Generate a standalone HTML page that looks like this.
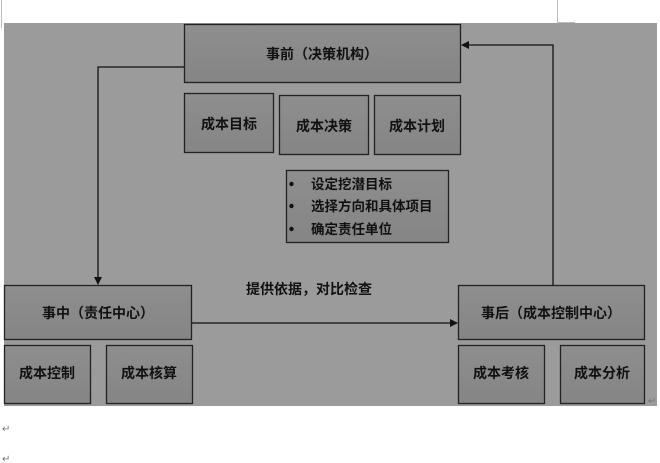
<!DOCTYPE html>
<html><head><meta charset="utf-8"><style>
html,body{margin:0;padding:0;background:#fff;width:660px;height:463px;overflow:hidden}
svg{position:absolute;left:0;top:0}
text{font-family:"Liberation Sans","Noto Sans CJK SC","WenQuanYi Zen Hei",sans-serif;font-weight:bold;fill:#111}
</style></head><body>
<svg width="660" height="463" viewBox="0 0 660 463">
<defs>
<linearGradient id="g" x1="0" y1="0" x2="0" y2="1"><stop offset="0" stop-color="#8e8e8e"/><stop offset="1" stop-color="#858585"/></linearGradient>
<marker id="a" markerWidth="8" markerHeight="8" refX="7" refY="4" orient="auto" markerUnits="userSpaceOnUse"><path d="M0,0 L8,4 L0,8 z" fill="#111"/></marker>
</defs>
<line x1="1.5" y1="0" x2="1.5" y2="28" stroke="#bbb"/>
<line x1="557.5" y1="0" x2="557.5" y2="23" stroke="#bbb"/>
<line x1="557" y1="22.5" x2="575" y2="22.5" stroke="#bbb"/>
<rect x="4" y="23" width="653" height="383" fill="#9b9b9b"/>
<g stroke="#222" stroke-width="1.3" fill="url(#g)">
<rect x="184.5" y="24.5" width="276" height="58"/>
<rect x="184.5" y="93.5" width="89" height="59"/>
<rect x="279.5" y="95.5" width="89" height="59"/>
<rect x="374.5" y="95.5" width="86" height="59"/>
<rect x="286.5" y="170.5" width="162" height="72"/>
<rect x="4.5" y="285.5" width="187" height="54"/>
<rect x="458.5" y="285.5" width="186" height="54"/>
<rect x="4.5" y="345.5" width="86" height="58"/>
<rect x="106.5" y="345.5" width="86" height="58"/>
<rect x="458.5" y="345.5" width="86" height="58"/>
<rect x="560.5" y="345.5" width="84" height="58"/>
</g>
<g stroke="#111" stroke-width="1.3" fill="none">
<polyline points="184,67 98,67 98,284" marker-end="url(#a)"/>
<polyline points="553,285 553,45 462,45" marker-end="url(#a)"/>
<line x1="192" y1="323" x2="457" y2="323" marker-end="url(#a)"/>
</g>
<g font-size="14" text-anchor="middle">
<text x="322" y="59">事前（决策机构）</text>
<text x="229" y="129">成本目标</text>
<text x="324" y="131">成本决策</text>
<text x="417" y="131">成本计划</text>
<text x="98" y="318">事中（责任中心）</text>
<text x="551" y="318">事后（成本控制中心）</text>
<text x="47" y="378">成本控制</text>
<text x="149" y="378">成本核算</text>
<text x="501" y="378">成本考核</text>
<text x="602" y="378">成本分析</text>
<text x="309" y="294">提供依据，对比检查</text>
</g>
<g font-size="13.5">
<circle cx="291.5" cy="184" r="2.2" fill="#111"/>
<circle cx="291.5" cy="206" r="2.2" fill="#111"/>
<circle cx="291.5" cy="229" r="2.2" fill="#111"/>
<text x="311" y="189">设定挖潜目标</text>
<text x="311" y="211">选择方向和具体项目</text>
<text x="311" y="234">确定责任单位</text>
</g>
<g font-size="10" fill="#666"><text x="2" y="432" style="fill:#777;font-weight:normal">↵</text><text x="2" y="462" style="fill:#777;font-weight:normal">↵</text><text x="648" y="404" style="fill:#777;font-weight:normal">↵</text></g>
</svg>
</body></html>
